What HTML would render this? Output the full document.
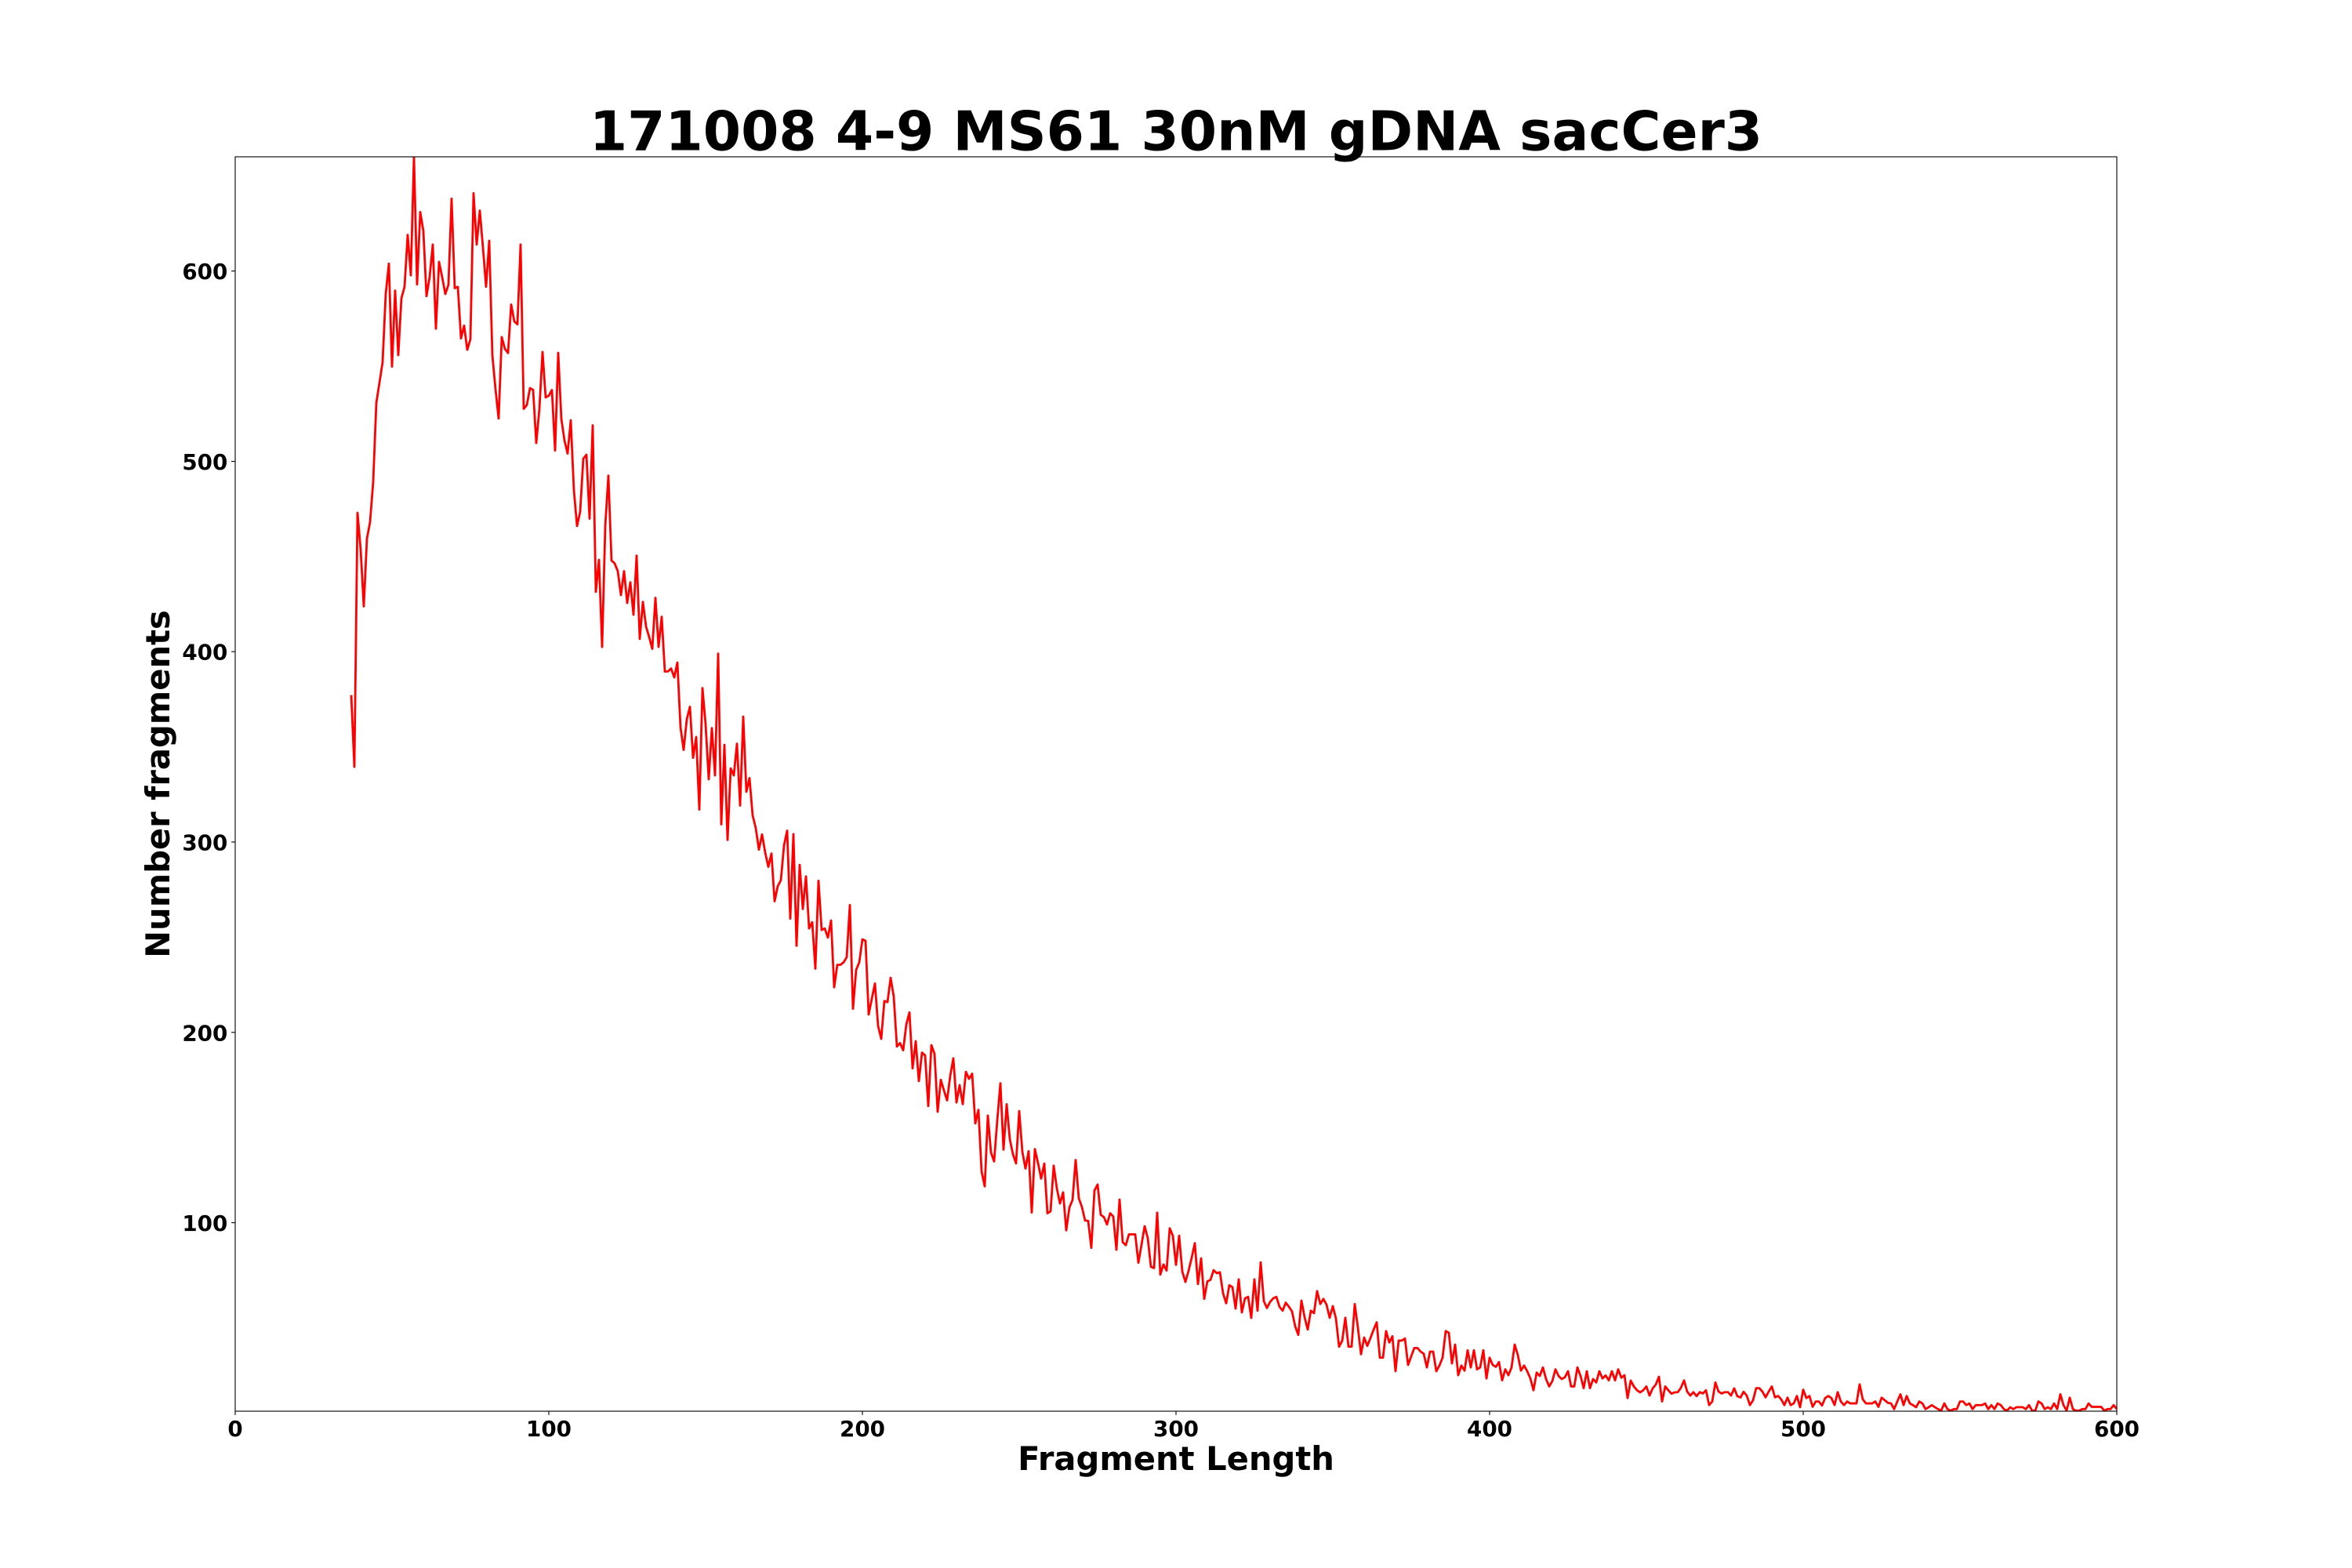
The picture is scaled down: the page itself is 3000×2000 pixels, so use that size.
<!DOCTYPE html>
<html>
<head>
<meta charset="utf-8">
<style>
html,body{margin:0;padding:0;background:#fff;}
svg{display:block;}
text{font-family:"DejaVu Sans","Liberation Sans",sans-serif;font-weight:bold;fill:#000;}
</style>
</head>
<body>
<svg width="3000" height="2000" viewBox="0 0 3000 2000" xmlns="http://www.w3.org/2000/svg">
<rect x="0" y="0" width="3000" height="2000" fill="#fff"/>
<svg x="300" y="200" width="2400" height="1600" viewBox="0 -660 600 659" preserveAspectRatio="none" overflow="hidden">
<polyline fill="none" stroke="#ff0000" stroke-width="2.8" stroke-linejoin="round" vector-effect="non-scaling-stroke" points="
37,-377.2 38,-339.5 39,-473 40,-453.7 41,-423.8 42,-459.3 43,-468.1 44,-489.2 45,-530.7 46,-541.3 47,-552 48,-587.9 49,-603.9 50,-549.8 51,-589.7 52,-555.8 53,-585.7 54,-591.7 55,-619 56,-597.7 57,-660 58,-593 59,-631 60,-621 61,-586.8 62,-596.8 63,-613.9 64,-569.7 65,-604.8 66,-596.8 67,-587.9 68,-592.8 69,-638 70,-591 71,-591.7 72,-564.6 73,-571.3 74,-558.6 75,-564.2 76,-640.9 77,-613.9 78,-631.8 79,-612.3 80,-591.7 81,-615.9 82,-555.8 83,-538 84,-522.5 85,-565.3 86,-559.1 87,-556.9 88,-582.4 89,-573.5 90,-572 91,-613.9 92,-527.6 93,-529.6 94,-538.5 95,-537.6 96,-509.6 97,-527.6 98,-557.5 99,-533.6
100,-534.5 101,-537.5 102,-505.7 103,-557 104,-522.3 105,-511 106,-504.1 107,-521.6 108,-484.9 109,-466 110,-473.6 111,-501.4 112,-503.5 113,-469.9 114,-518.9 115,-431.4 116,-448.3 117,-402.5 118,-466 119,-492.5 120,-447.9 121,-446.4 122,-442.3 123,-429.7 124,-442.3 125,-425.6 126,-436.5 127,-419.4 128,-450.5 129,-406.7 130,-426.2 131,-413.3 132,-407.7 133,-401.5 134,-428.3 135,-402.5 136,-418.4 137,-389.6 138,-389.6 139,-391.2 140,-386.5 141,-394.3 142,-360.3 143,-348.4 144,-364.5 145,-371.1 146,-344.3 147,-355.2 148,-317.1 149,-380.9 150,-361.8 151,-333 152,-359.9 153,-335 154,-399 155,-309.3 156,-351.1 157,-301.1 158,-338.7 159,-335 160,-351.7 161,-319.2 162,-365.9 163,-326.4 164,-333.6 165,-314
166,-307.3 167,-296 168,-304 169,-294.5 170,-287 171,-294 172,-268.9 173,-276.8 174,-279.9 175,-298.2 176,-306 177,-259.8 178,-304.2 179,-245.5 180,-288 181,-264.8 182,-282 183,-254.6 184,-257.9 185,-233.5 186,-279.7 187,-253.8 188,-254.6 189,-249.8 190,-258.8 191,-223.7 192,-235.5 193,-235.5 194,-236.8 195,-239.5 196,-266.9 197,-212.4 198,-232.8 199,-236.8 200,-248.9 201,-248.1 202,-209.4 203,-217.7 204,-225.7 205,-203.4 206,-196.6 207,-216.5 208,-215.9 209,-228.7 210,-218.8 211,-192.6 212,-194.4 213,-190.6 214,-204.2 215,-210.5 216,-181.1 217,-195.4 218,-174.4 219,-189.4 220,-187.9 221,-161.3 222,-193.3 223,-188.7 224,-158.3 225,-175.1 226,-169.5 227,-164.3 228,-177.1 229,-186.4 230,-163.2 231,-172.3 232,-162.3 233,-179.3 234,-175.6 235,-178.3 236,-152.2 237,-159.3 238,-127 239,-119.1 240,-156.3 241,-136.9 242,-132.2 243,-153.7 244,-173.3 245,-138.4 246,-162.3 247,-144 248,-136 249,-131.2
250,-158.7 251,-137.3 252,-128.5 253,-137.6 254,-105.4 255,-138.7 256,-131.4 257,-123.2 258,-131.1 259,-105 260,-106 261,-130 262,-118.1 263,-110.1 264,-116 265,-96 266,-108 267,-111.9 268,-133 269,-112.9 270,-108.3 271,-101.2 272,-101 273,-86.8 274,-117 275,-120.1 276,-104.2 277,-103 278,-99.1 279,-105 280,-103.3 281,-85.8 282,-112.2 283,-89.8 284,-88.2 285,-93.9 286,-93.9 287,-93.9 288,-79 289,-88.4 290,-98.2 291,-91.9 292,-76.9 293,-76.2 294,-105.3 295,-72.8 296,-78.1 297,-74.9 298,-97.1 299,-93.2 300,-77.9 301,-93.2 302,-74.4 303,-68.9 304,-74.7 305,-81.6 306,-89.3 307,-67.8 308,-81.3 309,-60 310,-69.2 311,-70 312,-75.1 313,-73.5 314,-74 315,-63 316,-57.7 317,-67.2 318,-66.2 319,-54.9 320,-70.3 321,-52.9 322,-60.3 323,-61.1 324,-50 325,-70.3 326,-53.8 327,-79.2 328,-58.9 329,-55.2 330,-58.4 331,-60.3 332,-61.1 333,-55.9 334,-53.8 335,-58 336,-55.9 337,-53.4 338,-45.6 339,-41.1 340,-59.1 341,-50.4 342,-43.9 343,-53.8 344,-52.5 345,-64.1 346,-57.3 347,-60 348,-57 349,-50.1 350,-56.2 351,-49.7 352,-34.9 353,-38 354,-50.1 355,-34.9 356,-34.9 357,-57.3 358,-44.9 359,-30.9 360,-39.7 361,-35.3 362,-39.4 363,-43.8 364,-47.7 365,-29.1
366,-29.1 367,-43.1 368,-37.1 369,-40.4 370,-22 371,-38.1 372,-38.1 373,-39.2 374,-25.3 375,-29.8 376,-34.2 377,-34.2 378,-32.3 379,-31.2 380,-24 381,-32.3 382,-32.3 383,-22 384,-25 385,-29.1 386,-43.1 387,-42.2 388,-26.1 389,-36 390,-19.9 391,-25 392,-22.3 393,-33 394,-24 395,-33 396,-23 397,-24 398,-33 399,-18.2 400,-29.1 401,-25.3 402,-24.3 403,-26.8 404,-17.2 405,-23 406,-19.9 407,-24 408,-36 409,-30.5 410,-22.3 411,-25 412,-22 413,-18.2 414,-12 415,-21.3 416,-19.5 417,-24 418,-17.9 419,-14 420,-16.8 421,-23 422,-19.5 423,-17.9 424,-18.8 425,-22 426,-14 427,-14 428,-24 429,-19.5 430,-13.1 431,-22 432,-13.1 433,-17.9 434,-16.1 435,-22 436,-18.2 437,-19.8 438,-17.2 439,-22 440,-17.2 441,-23 442,-18.6 443,-19.9 444,-7.9 445,-17.1 446,-14 447,-12 448,-10.9 449,-12 450,-14 451,-9.2 452,-13 453,-15 454,-19.1 455,-6.1 456,-14 457,-12 458,-10.2 459,-10.9 460,-11 461,-13.3 462,-17.2 463,-11.3 464,-9.2 465,-11 466,-8.9 467,-11 468,-10.3 469,-12 470,-4.2 471,-6.1 472,-16.1 473,-11.3 474,-10.3 475,-11 476,-11 477,-9.2 478,-13 479,-8.9
480,-8.2 481,-11.2 482,-9.2 483,-4.2 484,-6.7 485,-13.1 486,-13.1 487,-11.3 488,-8.3 489,-11.3 490,-14 491,-8.3 492,-9 493,-7.2 494,-4.2 495,-8.1 496,-4.2 497,-5.1 498,-9 499,-3.1 500,-12.3 501,-7.9 502,-9 503,-3.3 504,-6.1 505,-6.1 506,-4 507,-7.9 508,-9 509,-7.9 510,-4.2 511,-11 512,-6.1 513,-4.2 514,-6.1 515,-5.1 516,-5.1 517,-5.1 518,-15.1 519,-7.2 520,-5.1 521,-5.1 522,-5.1 523,-6.1 524,-3.3 525,-8.1 526,-6.8 527,-5.4 528,-5.1 529,-2.1 530,-6.1 531,-9.9 532,-4.2 533,-9 534,-5.1 535,-4.2 536,-3.1 537,-6.1 538,-5.1 539,-2.1 540,-3.1 541,-4.2 542,-3.1 543,-2.1 544,-1.3 545,-5.1 546,-2.1 547,-1.3 548,-2.1 549,-2.1 550,-6.1 551,-6.1 552,-4.2 553,-5.1 554,-2.1 555,-4.2 556,-4.2 557,-4.2 558,-5.1 559,-2.1 560,-4.2 561,-2.1 562,-5.1 563,-4.2 564,-2.1 565,-1.3 566,-3.1 567,-2.1 568,-3.1 569,-3.1 570,-3.1 571,-2.1 572,-4.2 573,-1.3 574,-1.3 575,-6.1 576,-5.1 577,-2.1 578,-3.1 579,-2.1 580,-5.1 581,-2.1 582,-9.9 583,-4.2 584,-1.3 585,-8.1 586,-2.1 587,-1.3 588,-1.3 589,-2.1 590,-2.1 591,-5.1 592,-3.3 593,-3.3 594,-3.3 595,-3.3 596,-1.3 597,-2.1 598,-2.1 599,-4.2 600,-2.1"/>
</svg>
<!-- axes frame -->
<rect x="300" y="200" width="2400" height="1600" fill="none" stroke="#000" stroke-width="1.11"/>
<!-- ticks -->
<g stroke="#000" stroke-width="1.11">
<line x1="300" y1="1800" x2="300" y2="1804.9"/>
<line x1="700" y1="1800" x2="700" y2="1804.9"/>
<line x1="1100" y1="1800" x2="1100" y2="1804.9"/>
<line x1="1500" y1="1800" x2="1500" y2="1804.9"/>
<line x1="1900" y1="1800" x2="1900" y2="1804.9"/>
<line x1="2300" y1="1800" x2="2300" y2="1804.9"/>
<line x1="2700" y1="1800" x2="2700" y2="1804.9"/>
<line x1="295.1" y1="1559.6" x2="300" y2="1559.6"/>
<line x1="295.1" y1="1316.8" x2="300" y2="1316.8"/>
<line x1="295.1" y1="1074.0" x2="300" y2="1074.0"/>
<line x1="295.1" y1="831.2" x2="300" y2="831.2"/>
<line x1="295.1" y1="588.5" x2="300" y2="588.5"/>
<line x1="295.1" y1="345.7" x2="300" y2="345.7"/>
</g>
<g font-size="27.78" text-anchor="middle">
<text x="300" y="1832">0</text>
<text x="700" y="1832">100</text>
<text x="1100" y="1832">200</text>
<text x="1500" y="1832">300</text>
<text x="1900" y="1832">400</text>
<text x="2300" y="1832">500</text>
<text x="2700" y="1832">600</text>
</g>
<g font-size="27.78" text-anchor="end">
<text x="290.3" y="1570.1">100</text>
<text x="290.3" y="1327.3">200</text>
<text x="290.3" y="1084.5">300</text>
<text x="290.3" y="841.7">400</text>
<text x="290.3" y="599.0">500</text>
<text x="290.3" y="356.2">600</text>
</g>
<text x="1500" y="1875" font-size="41.67" text-anchor="middle">Fragment Length</text>
<text transform="translate(216,1000) rotate(-90)" font-size="41.67" text-anchor="middle">Number fragments</text>
<text x="1500" y="191.7" font-size="69.44" text-anchor="middle">171008 4-9 MS61 30nM gDNA sacCer3</text>
</svg>
</body>
</html>
